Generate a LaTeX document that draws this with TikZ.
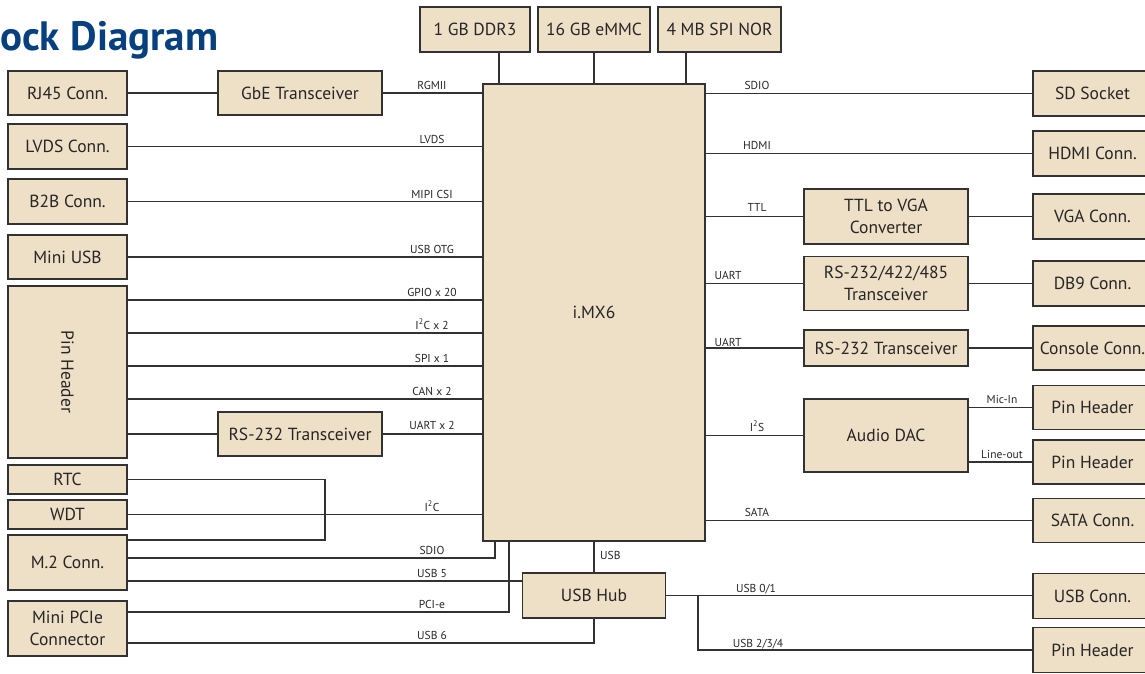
\documentclass[tikz,border=0pt]{standalone}
\usepackage{fontspec}
\setmainfont{PT Sans}
\usetikzlibrary{calc}
\definecolor{boxfill}{RGB}{238,223,199}
\definecolor{boxline}{RGB}{50,50,50}
\definecolor{titleblue}{RGB}{6,64,126}

\tikzset{
  blk/.style={draw=boxline, fill=boxfill, line width=1.2pt, inner sep=0pt,
    align=center, text=black!85, font=\fontsize{17.5}{22}\selectfont},
  sig/.style={inner sep=0pt, anchor=base, text=black!85, font=\fontsize{11.5}{12}\selectfont},
  wire/.style={draw=boxline, line width=1.1pt},
}

\begin{document}
\begin{tikzpicture}[x=1pt, y=-1pt]
  \clip (0,0) rectangle (1145,673);

  % title
  \node[anchor=base west, inner sep=0pt, text=titleblue, font=\fontsize{41}{41}\bfseries\selectfont] (title) at (0,50) {ock Diagram};

  % processor and memory
  \node[blk, minimum width=222, minimum height=457] (imx) at (594,312.5) {i.MX6};
  \node[blk, minimum width=110, minimum height=45] (ddr) at (475,29.5) {1 GB DDR3};
  \node[blk, minimum width=112, minimum height=45] (emmc) at (594,29.5) {16 GB eMMC};
  \node[blk, minimum width=123, minimum height=45] (nor) at (719.5,29.5) {4 MB SPI NOR};

  % left column
  \node[blk, minimum width=119, minimum height=44] (rj45) at (67.5,93) {RJ45 Conn.};
  \node[blk, minimum width=164, minimum height=44] (gbe) at (300,93) {GbE Transceiver};
  \node[blk, minimum width=119, minimum height=45] (lvdsc) at (67.5,146.5) {LVDS Conn.};
  \node[blk, minimum width=119, minimum height=45] (b2b) at (67.5,201.5) {B2B Conn.};
  \node[blk, minimum width=119, minimum height=44] (miniusb) at (67.5,257) {Mini USB};
  \node[blk, minimum width=119, minimum height=172] (pinhdr) at (67.5,372) {\rotatebox[origin=c]{-90}{Pin Header}};
  \node[blk, minimum width=164, minimum height=44] (rsleft) at (300,434) {RS-232 Transceiver};
  \node[blk, minimum width=119, minimum height=29] (rtc) at (67.5,479.5) {RTC};
  \node[blk, minimum width=119, minimum height=29] (wdt) at (67.5,514.5) {WDT};
  \node[blk, minimum width=119, minimum height=55] (m2) at (67.5,562.5) {M.2 Conn.};
  \node[blk, minimum width=119, minimum height=55] (mpcie) at (67.5,628.5) {Mini PCIe\\Connector};
  \node[blk, minimum width=143, minimum height=45] (hub) at (594,595.5) {USB Hub};

  % right column
  \node[blk, minimum width=119, minimum height=45] (sd) at (1092.5,93.5) {SD Socket};
  \node[blk, minimum width=119, minimum height=45] (hdmi) at (1092.5,153.5) {HDMI Conn.};
  \node[blk, minimum width=164, minimum height=55] (ttlvga) at (886,216.5) {TTL to VGA\\Converter};
  \node[blk, minimum width=119, minimum height=45] (vga) at (1092.5,216.5) {VGA Conn.};
  \node[blk, minimum width=164, minimum height=54] (rsmulti) at (886,283.5) {RS-232/422/485\\Transceiver};
  \node[blk, minimum width=119, minimum height=45] (db9) at (1092.5,283.5) {DB9 Conn.};
  \node[blk, minimum width=164, minimum height=36] (rsright) at (886,348) {RS-232 Transceiver};
  \node[blk, minimum width=119, minimum height=44] (console) at (1092.5,348) {Console Conn.};
  \node[blk, minimum width=164, minimum height=73] (dac) at (886,435.5) {Audio DAC};
  \node[blk, minimum width=119, minimum height=44] (phmic) at (1092.5,407.5) {Pin Header};
  \node[blk, minimum width=119, minimum height=44] (phline) at (1092.5,462) {Pin Header};
  \node[blk, minimum width=119, minimum height=44] (sata) at (1092.5,520.5) {SATA Conn.};
  \node[blk, minimum width=119, minimum height=45] (usbconn) at (1092.5,596) {USB Conn.};
  \node[blk, minimum width=119, minimum height=45] (phusb) at (1092.5,650) {Pin Header};

  % memory buses
  \draw[wire] (ddr.south -| 499,0) -- (imx.north -| 499,0);
  \draw[wire] (emmc.south) -- (imx.north -| emmc.south);
  \draw[wire] (nor.south -| 686,0) -- (imx.north -| 686,0);

  % left side buses
  \draw[wire] (rj45) -- (gbe);
  \draw[wire] (gbe) -- (imx.west |- gbe);
  \draw[wire] (lvdsc) -- (imx.west |- lvdsc);
  \draw[wire] (b2b) -- (imx.west |- b2b);
  \draw[wire] (miniusb) -- (imx.west |- miniusb);
  \foreach \yy in {300,333,366,399}
    \draw[wire] (pinhdr.east |- 0,\yy) -- (imx.west |- 0,\yy);
  \draw[wire] (pinhdr.east |- rsleft) -- (rsleft);
  \draw[wire] (rsleft) -- (imx.west |- rsleft);
  \coordinate (i2cbus) at (325,540);
  \draw[wire] (rtc.east) -| (i2cbus) -- (m2.east |- i2cbus);
  \draw[wire] (wdt) -- (imx.west |- wdt);
  \draw[wire] (m2.east |- 0,558) -| (imx.south -| 495,0);
  \draw[wire] (m2.east |- 0,581) -- (hub.west |- 0,581);
  \draw[wire] (mpcie.east |- 0,612) -| (imx.south -| 509,0);
  \draw[wire] (mpcie.east |- 0,643) -| (hub.south);
  \draw[wire] (imx.south -| hub.north) -- (hub.north);

  % right side buses
  \draw[wire] (imx.east |- sd) -- (sd);
  \draw[wire] (imx.east |- hdmi) -- (hdmi);
  \draw[wire] (imx.east |- ttlvga) -- (ttlvga) -- (vga);
  \draw[wire] (imx.east |- rsmulti) -- (rsmulti) -- (db9);
  \draw[wire] (imx.east |- rsright) -- (rsright) -- (console);
  \draw[wire] (imx.east |- dac) -- (dac);
  \draw[wire] (dac.east |- phmic) -- (phmic);
  \draw[wire] (dac.east |- phline) -- (phline);
  \draw[wire] (imx.east |- sata) -- (sata);
  \draw[wire] (hub.east) -- (usbconn.west |- hub.east);
  \draw[wire] (hub.east -| 698,0) |- (phusb);

  % signal labels, left
  \node[sig] (lrgmii) at (432,89) {RGMII};
  \node[sig] (llvds) at (432,143) {LVDS};
  \node[sig] (lmipi) at (432,198) {MIPI CSI};
  \node[sig] (lotg) at (432,253) {USB OTG};
  \node[sig] (lgpio) at (432,296) {GPIO x 20};
  \node[sig] (li2ctwo) at (432,329) {I\textsuperscript{2}C x 2};
  \node[sig] (lspi) at (432,362) {SPI x 1};
  \node[sig] (lcan) at (432,395) {CAN x 2};
  \node[sig] (luarttwo) at (432,429) {UART x 2};
  \node[sig] (li2c) at (432,511) {I\textsuperscript{2}C};
  \node[sig] (lsdiol) at (432,554) {SDIO};
  \node[sig] (lusbfive) at (432,577) {USB 5};
  \node[sig] (lpcie) at (432,608) {PCI-e};
  \node[sig] (lusbsix) at (432,639) {USB 6};
  \node[sig, anchor=base west] (lusb) at (600,559) {USB};

  % signal labels, right
  \node[sig] (lsdior) at (757,89) {SDIO};
  \node[sig] (lhdmi) at (757,149) {HDMI};
  \node[sig] (lttl) at (757,211) {TTL};
  \node[sig] (luarta) at (728,279) {UART};
  \node[sig] (luartb) at (728,346) {UART};
  \node[sig] (li2s) at (757,431) {I\textsuperscript{2}S};
  \node[sig] (lmic) at (1002,403) {Mic-In};
  \node[sig] (lline) at (1002,458) {Line-out};
  \node[sig] (lsata) at (757,516) {SATA};
  \node[sig] (lusbzero) at (756,592) {USB 0/1};
  \node[sig] (lusbtwo) at (758,647) {USB 2/3/4};
\end{tikzpicture}
\end{document}
